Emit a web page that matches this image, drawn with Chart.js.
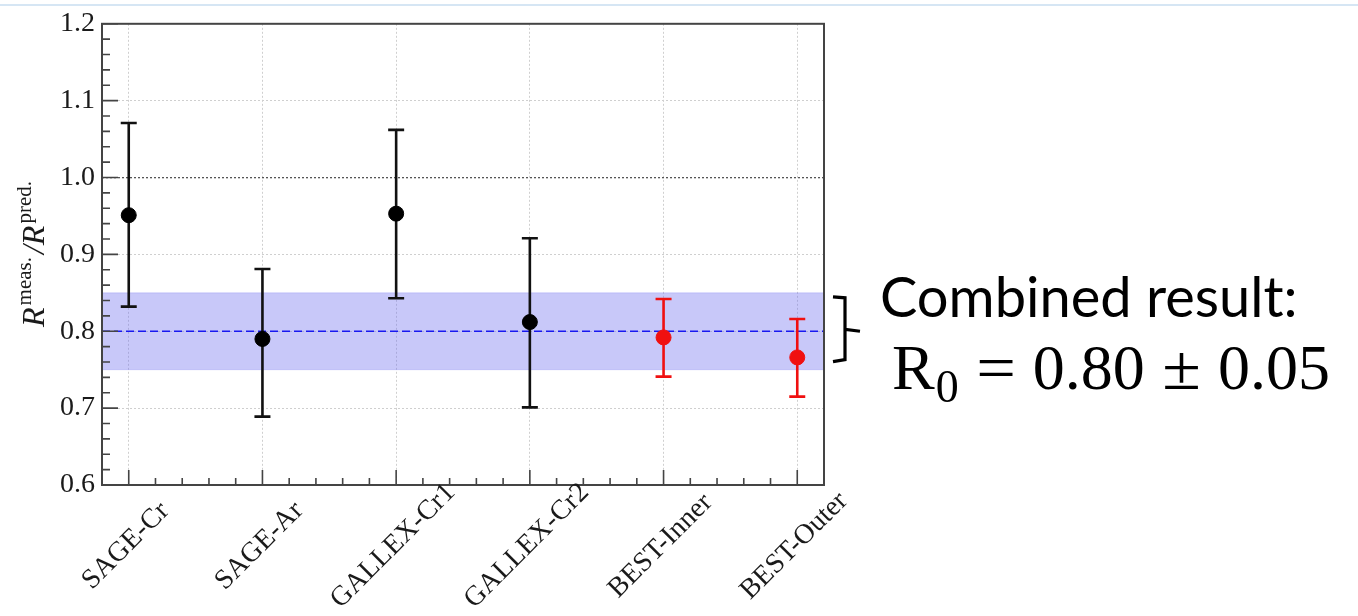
<!DOCTYPE html>
<html>
<head>
<meta charset="utf-8">
<script src="https://cdn.jsdelivr.net/npm/chart.js@4.4.1/dist/chart.umd.min.js"></script>
<style>
  html, body { margin: 0; padding: 0; background: #fff; overflow: hidden; }
  #wrap { position: relative; width: 1358px; height: 616px; }
  #c { position: absolute; left: 0; top: 0; }
  #topline { position: absolute; left: 0; top: 4px; width: 1358px; height: 2px; background: #d6e6f4; }
  .note { position: absolute; color: #000; white-space: nowrap; }
  #n1 { left: 880px; top: 262px; font: 56px Lato; }
  #n2 { left: 892px; top: 333px; font: 64px "Liberation Serif"; line-height: 70px; }
  #n2 .sub { font-size: 46px; position: relative; top: 13px; margin-left: 1px; }
  #n2 .op { display: inline-block; margin: 0 19px; transform: scaleX(1.1); }
</style>
</head>
<body>
<div id="wrap">
  <canvas id="c" width="1358" height="616"></canvas>
  <div id="topline"></div>
  <div class="note" id="n1">Combined result:</div>
  <div class="note" id="n2">R<span class="sub">0</span><span class="op">=</span>0.80<span class="op">±</span>0.05</div>
</div>
<script>
// measured / predicted ratios per source experiment
const experiments = ["SAGE-Cr", "SAGE-Ar", "GALLEX-Cr1", "GALLEX-Cr2", "BEST-Inner", "BEST-Outer"];
const ratios = [0.951, 0.790, 0.953, 0.812, 0.792, 0.766];
const errUp = [0.12, 0.091, 0.109, 0.109, 0.05, 0.05];
const errDown = [0.119, 0.101, 0.11, 0.111, 0.051, 0.051];
const isBest = [false, false, false, false, true, true];
const combined = 0.80;
const combinedErr = 0.05;
const yTicks = [0.6, 0.7, 0.8, 0.9, 1.0, 1.1, 1.2];
const xMin = -0.2, xMax = 5.2;

const blackPts = [], redPts = [];
experiments.forEach((name, i) => {
  (isBest[i] ? redPts : blackPts).push({ x: i, y: ratios[i] });
});

// error bars, drawn under each dataset's points
const errorBars = {
  id: "errorBars",
  beforeDatasetDraw(chart, args) {
    const ds = chart.data.datasets[args.index];
    if (!ds.errColor) return;
    const xs = chart.scales.x, ys = chart.scales.y;
    const ctx = chart.ctx;
    ctx.save();
    ctx.strokeStyle = ds.errColor;
    ctx.lineWidth = 2.6;
    ds.data.forEach(p => {
      const px = xs.getPixelForValue(p.x);
      const top = ys.getPixelForValue(p.y + errUp[p.x]);
      const bot = ys.getPixelForValue(p.y - errDown[p.x]);
      ctx.beginPath();
      ctx.moveTo(px, top); ctx.lineTo(px, bot);
      ctx.moveTo(px - 8, top); ctx.lineTo(px + 8, top);
      ctx.moveTo(px - 8, bot); ctx.lineTo(px + 8, bot);
      ctx.stroke();
    });
    ctx.restore();
  }
};

// frame, inward ticks, rotated labels, axis title and the brace
const frame = {
  id: "frame",
  afterDraw(chart) {
    const { ctx, chartArea: a } = chart;
    const xs = chart.scales.x, ys = chart.scales.y;
    ctx.save();
    ctx.strokeStyle = "#444";
    ctx.lineWidth = 2;
    ctx.strokeRect(a.left, a.top, a.right - a.left, a.bottom - a.top);

    ctx.lineWidth = 1.6;
    ctx.beginPath();
    for (let k = 0; k <= 30; k++) {
      const v = 0.6 + k * 0.02;
      const py = ys.getPixelForValue(v);
      const len = k % 5 === 0 ? 16 : 8;
      ctx.moveTo(a.left, py); ctx.lineTo(a.left + len, py);
    }
    for (let k = 0; k <= 27; k++) {
      const v = xMin + k * 0.2;
      const px = xs.getPixelForValue(v);
      const major = Math.abs(v - Math.round(v)) < 1e-6;
      ctx.moveTo(px, a.bottom); ctx.lineTo(px, a.bottom - (major ? 15 : 7));
    }
    ctx.stroke();

    // brace pointing at the combined band
    const yHi = ys.getPixelForValue(combined + combinedErr);
    const yLo = ys.getPixelForValue(combined - combinedErr);
    const yMid = ys.getPixelForValue(combined);
    ctx.strokeStyle = "#000";
    ctx.lineWidth = 3.2;
    ctx.lineJoin = "miter";
    ctx.beginPath();
    ctx.moveTo(833, yHi + 4);
    ctx.lineTo(845, yHi + 5);
    ctx.lineTo(845, yMid - 2);
    ctx.lineTo(860, yMid);
    ctx.moveTo(845, yMid - 2);
    ctx.lineTo(845, yLo - 10);
    ctx.lineTo(833, yLo - 8);
    ctx.stroke();

    ctx.fillStyle = "#1a1a1a";
    ctx.font = '28px "Liberation Serif"';
    ctx.textAlign = "center";
    ctx.textBaseline = "middle";
    experiments.forEach((name, i) => {
      ctx.save();
      ctx.translate(xs.getPixelForValue(i) - 3, a.bottom + 61);
      ctx.rotate(-Math.PI / 4);
      ctx.fillText(name, 0, 0);
      ctx.restore();
    });

    ctx.translate(44, 327);
    ctx.rotate(-Math.PI / 2);
    ctx.textAlign = "left";
    ctx.textBaseline = "alphabetic";
    let x = 0;
    const part = (txt, font, dy) => {
      ctx.font = font;
      ctx.fillText(txt, x, dy);
      x += ctx.measureText(txt).width;
    };
    part("R", 'italic 32px "Liberation Serif"', 0);
    x += 2;
    part("meas.", '21px "Liberation Serif"', -13);
    x += 3;
    part("/R", 'italic 32px "Liberation Serif"', 0);
    x += 2;
    part("pred.", '21px "Liberation Serif"', -13);
    ctx.restore();
  }
};

new Chart(document.getElementById("c"), {
  type: "scatter",
  data: {
    datasets: [
      {
        data: blackPts, order: 1, errColor: "#111",
        pointRadius: 7.5, pointHoverRadius: 7.5,
        pointBackgroundColor: "#000", pointBorderColor: "#000", showLine: false
      },
      {
        data: redPts, order: 0, errColor: "#f01010",
        pointRadius: 7.5, pointHoverRadius: 7.5,
        pointBackgroundColor: "#f01010", pointBorderColor: "#f01010", showLine: false
      },
      {
        data: [{ x: xMin, y: combined }, { x: xMax, y: combined }],
        order: 3, showLine: true, pointRadius: 0,
        borderColor: "#1818f0", borderWidth: 1.6, borderDash: [8, 4]
      },
      {
        data: [{ x: xMin, y: combined + combinedErr }, { x: xMax, y: combined + combinedErr }],
        order: 5, showLine: true, pointRadius: 0,
        borderColor: "rgba(120,120,240,0.25)", borderWidth: 1,
        fill: "+1", backgroundColor: "rgba(110,110,240,0.38)"
      },
      {
        data: [{ x: xMin, y: combined - combinedErr }, { x: xMax, y: combined - combinedErr }],
        order: 6, showLine: true, pointRadius: 0,
        borderColor: "rgba(120,120,240,0.25)", borderWidth: 1
      }
    ]
  },
  options: {
    responsive: false,
    animation: false,
    events: [],
    layout: { padding: { left: 0, top: 20, right: 534, bottom: 0 } },
    plugins: { legend: { display: false }, tooltip: { enabled: false } },
    scales: {
      x: {
        type: "linear", min: xMin, max: xMax,
        afterBuildTicks: s => { s.ticks = experiments.map((n, i) => ({ value: i })); },
        afterFit: s => { s.height = 131; },
        ticks: { display: false },
        border: { display: false, dash: [2, 2] },
        grid: { color: "#cfcfcf", lineWidth: 1, drawTicks: false }
      },
      y: {
        min: 0.6, max: 1.2,
        afterBuildTicks: s => { s.ticks = yTicks.map(v => ({ value: v })); },
        afterFit: s => { s.width = 102; },
        border: { display: false, dash: [2, 2] },
        grid: {
          drawTicks: false,
          color: c => Math.abs(c.tick.value - 1.0) < 1e-6 ? "#555" : "#cfcfcf",
          lineWidth: c => Math.abs(c.tick.value - 1.0) < 1e-6 ? 1.3 : 1
        },
        ticks: {
          padding: 7, color: "#1a1a1a",
          font: { family: "Liberation Serif", size: 28 },
          callback: v => v.toFixed(1)
        }
      }
    }
  },
  plugins: [errorBars, frame]
});
</script>
</body>
</html>
